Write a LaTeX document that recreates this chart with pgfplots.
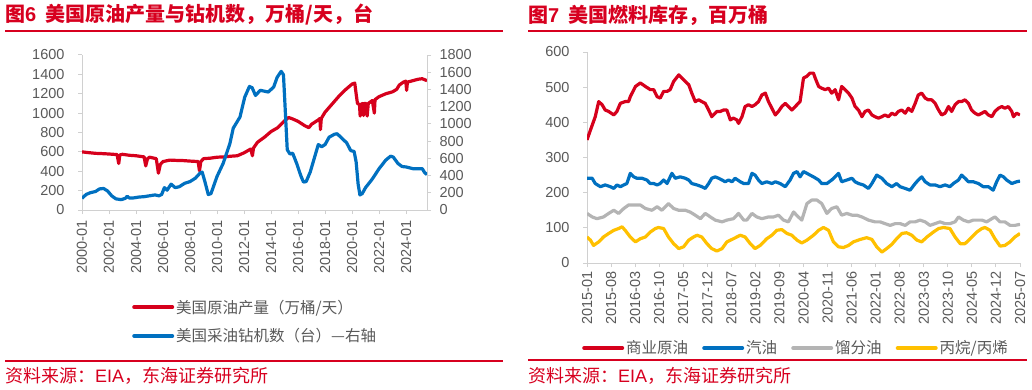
\documentclass[border=0pt]{standalone}
\usepackage{fontspec}
\setmainfont{Liberation Sans}
\newfontfamily\cjk{Noto Sans CJK SC}
\usepackage{pgfplots}
\pgfplotsset{compat=1.18}
\definecolor{hdred}{HTML}{D7001F}
\definecolor{sred}{HTML}{D6001C}
\definecolor{sblue}{HTML}{0070C0}
\definecolor{sgray}{HTML}{B4B4B4}
\definecolor{syellow}{HTML}{FFC000}
\definecolor{axgray}{HTML}{D0D0D0}
\definecolor{txgray}{HTML}{595959}
\pgfplotsset{
  base/.style={scale only axis,
    axis line style={draw=axgray, line width=1pt, -},
    tick style={draw=axgray, line width=1pt},
    major tick length=4pt, tick align=outside,
    ticklabel style={font=\fontsize{14.5}{16}\selectfont, text=txgray},
    /pgf/number format/assume math mode=true,
    /pgf/number format/1000 sep={},
    legend image code/.code={\draw[##1, line width=4pt, line cap=round] (0pt,0pt) -- (38pt,0pt);},
  },
  ser/.style={line width=3.2pt, line join=round},
}
\begin{document}
\begin{tikzpicture}
\useasboundingbox (0,0) rectangle (1032pt,389pt);
% titles and rules
\node[anchor=west, inner sep=0pt, text=hdred, font=\cjk\bfseries\fontsize{20}{23}\selectfont] at (5pt,374pt) {图{\rmfamily\bfseries 6}\ \ 美国原油产量与钻机数，万桶/天，台};
\node[anchor=west, inner sep=0pt, text=hdred, font=\cjk\bfseries\fontsize{20}{23}\selectfont] at (528pt,374pt) {图{\rmfamily\bfseries 7}\ \ 美国燃料库存，百万桶};
\draw[hdred, line width=1.6pt] (5pt,358pt) -- (503pt,358pt);
\draw[hdred, line width=1.6pt] (528pt,358pt) -- (1027pt,358pt);
\draw[hdred, line width=1.6pt] (5pt,28pt) -- (503pt,28pt);
\draw[hdred, line width=1.6pt] (528pt,29pt) -- (1027pt,29pt);
\node[anchor=west, inner sep=0pt, text=hdred, font=\cjk\fontsize{18}{21}\selectfont] at (5pt,13pt) {资料来源：{\rmfamily EIA}，东海证券研究所};
\node[anchor=west, inner sep=0pt, text=hdred, font=\cjk\fontsize{18}{21}\selectfont] at (528pt,13pt) {资料来源：{\rmfamily EIA}，东海证券研究所};

% ---------------- left panel
\begin{axis}[base, at={(82pt,179pt)}, anchor=south west, width=345pt, height=155pt,
  xmin=2000, xmax=2025.55, ymin=0, ymax=1600, ytick={0,200,...,1600},
  axis x line*=bottom, axis y line*=left,
  xtick={2000,2002,...,2024},
  xticklabels={2000-01,2002-01,2004-01,2006-01,2008-01,2010-01,2012-01,2014-01,2016-01,2018-01,2020-01,2022-01,2024-01},
  xticklabel style={rotate=90, anchor=east, yshift=0pt, xshift=-3pt},
  yticklabel style={xshift=-10pt}]
\addplot[sred, ser] coordinates {(2000.0,600)(2000.5,592)(2001.0,585)(2001.5,582)(2002.0,578)(2002.6,572)(2002.72,480)(2002.8,568)(2003.0,575)(2003.5,565)(2004.0,560)(2004.6,548)(2004.72,455)(2004.85,530)(2005.0,545)(2005.5,530)(2005.66,380)(2005.8,470)(2006.0,500)(2006.5,515)(2007.0,512)(2007.5,510)(2008.0,505)(2008.6,500)(2008.7,405)(2008.8,500)(2009.0,530)(2009.5,535)(2010.0,545)(2010.5,548)(2011.0,555)(2011.5,560)(2012.0,590)(2012.5,630)(2012.62,560)(2012.7,640)(2013.0,700)(2013.5,750)(2014.0,810)(2014.5,850)(2015.0,920)(2015.3,955)(2015.6,940)(2016.0,915)(2016.5,870)(2016.8,850)(2017.0,885)(2017.5,930)(2017.62,945)(2017.66,830)(2017.72,945)(2018.0,1010)(2018.5,1090)(2019.0,1170)(2019.5,1240)(2020.0,1300)(2020.2,1310)(2020.3,1200)(2020.4,1100)(2020.55,1090)(2020.6,970)(2020.65,1090)(2020.8,1100)(2020.85,975)(2020.9,1100)(2021.05,1100)(2021.12,970)(2021.2,1100)(2021.5,1130)(2021.65,1000)(2021.7,1140)(2022.0,1170)(2022.5,1200)(2023.0,1220)(2023.3,1245)(2023.5,1290)(2023.8,1320)(2023.98,1330)(2024.04,1235)(2024.1,1320)(2024.5,1335)(2024.9,1350)(2025.2,1355)(2025.55,1335)};
\end{axis}
\begin{axis}[base, at={(82pt,179pt)}, anchor=south west, width=345pt, height=155pt,
  xmin=2000, xmax=2025.55, ymin=0, ymax=1800, ytick={0,200,...,1800},
  axis y line*=right, axis x line=none,
  yticklabel style={xshift=5pt},
  legend style={at={(axis description cs:0.145,-0.72)}, anchor=west, draw=none, fill=none, inner sep=0pt,
    font=\cjk\fontsize{15.5}{18}\selectfont, text=txgray, row sep=10pt},
  legend cell align=left]
\addlegendimage{sred, ser}
\addlegendentry{美国原油产量（万桶/天）}
\addplot[sblue, ser] coordinates {(2000.0,135)(2000.3,180)(2000.6,200)(2001.0,215)(2001.3,245)(2001.6,250)(2001.9,220)(2002.2,165)(2002.5,130)(2002.9,120)(2003.2,135)(2003.35,160)(2003.5,140)(2003.8,140)(2004.2,150)(2004.6,155)(2005.0,165)(2005.4,175)(2005.7,165)(2005.9,180)(2006.1,260)(2006.3,230)(2006.6,300)(2006.9,260)(2007.2,270)(2007.6,310)(2008.0,330)(2008.4,370)(2008.75,430)(2008.9,440)(2009.1,330)(2009.35,180)(2009.55,190)(2010.0,390)(2010.45,540)(2010.95,770)(2011.2,950)(2011.7,1080)(2012.05,1310)(2012.4,1435)(2012.6,1420)(2012.85,1330)(2013.2,1390)(2013.5,1380)(2013.8,1370)(2014.2,1430)(2014.45,1540)(2014.75,1610)(2014.92,1570)(2015.2,700)(2015.4,650)(2015.6,660)(2015.9,540)(2016.2,400)(2016.4,325)(2016.6,330)(2016.9,440)(2017.2,600)(2017.5,760)(2017.75,735)(2018.0,760)(2018.3,845)(2018.7,880)(2018.9,885)(2019.2,840)(2019.6,780)(2019.9,690)(2020.15,680)(2020.3,560)(2020.45,300)(2020.58,175)(2020.75,190)(2021.0,260)(2021.5,360)(2022.0,480)(2022.5,580)(2022.85,625)(2023.05,615)(2023.4,540)(2023.7,505)(2024.0,500)(2024.5,480)(2024.9,480)(2025.2,480)(2025.35,440)(2025.55,410)};
\addlegendentry{美国采油钻机数（台）—右轴}
\end{axis}

% ---------------- right panel
\begin{axis}[base, at={(587pt,126pt)}, anchor=south west, width=433pt, height=211pt,
  xmin=0, xmax=126, ymin=0, ymax=600, ytick={0,100,...,600},
  axis x line*=bottom, axis y line*=left,
  xtick={0,7,...,126},
  xticklabels={2015-01,2015-08,2016-03,2016-10,2017-05,2017-12,2018-07,2019-02,2019-09,2020-04,2020-11,2021-06,2022-01,2022-08,2023-03,2023-10,2024-05,2024-12,2025-07},
  xticklabel style={rotate=90, anchor=east, xshift=-1pt},
  yticklabel style={xshift=-10pt},
  legend style={at={(axis description cs:-0.0115,-0.403)}, anchor=west, draw=none, fill=none, inner sep=0pt,
    font=\cjk\fontsize{15.5}{18}\selectfont, text=txgray, legend columns=4,
    /tikz/every even column/.append style={column sep=12pt}},
  legend cell align=left]
\addplot[sred, ser] coordinates {(0,350)(1.0,378)(2.4,416)(3.4,459)(4.4,450)(5.3,435)(6.3,431)(7.8,421)(8.7,431)(9.7,454)(11.1,459)(12.1,459)(12.6,473)(14.1,502)(15.5,512)(17.0,502)(18.4,493)(19.4,493)(20.4,473)(21.3,469)(22.3,488)(23.3,488)(24.2,493)(25.2,516)(26.7,535)(28.1,521)(29.6,507)(30.5,483)(31.5,459)(32.5,464)(33.4,459)(34.4,454)(35.4,435)(36.3,416)(37.8,431)(38.8,431)(39.7,435)(40.7,435)(41.7,407)(42.6,412)(43.6,407)(44.1,397)(45.1,416)(46.0,445)(47.0,450)(48.0,445)(48.9,450)(49.9,459)(50.9,478)(51.9,483)(52.8,459)(53.8,440)(54.8,421)(55.7,431)(56.7,445)(57.7,454)(58.6,445)(59.6,435)(60.6,445)(62.0,459)(63.0,526)(64.0,531)(64.9,540)(65.9,540)(66.4,526)(67.4,502)(68.3,497)(69.3,493)(70.3,497)(71.2,483)(72.2,493)(73.2,464)(74.1,502)(75.1,493)(76.1,483)(77.1,469)(78.0,445)(79.0,435)(80.0,416)(80.9,431)(81.9,435)(82.9,421)(83.8,416)(84.8,412)(85.8,416)(86.7,421)(87.7,416)(88.7,426)(89.7,421)(90.6,431)(91.6,435)(92.6,426)(93.5,440)(94.5,431)(95.5,454)(96.4,478)(97.4,483)(98.4,469)(99.3,464)(100.3,464)(101.3,454)(102.3,435)(103.2,421)(104.2,426)(105.2,445)(106.1,431)(107.1,450)(108.1,459)(109.0,459)(110.0,464)(111.0,454)(111.9,435)(112.9,426)(113.9,421)(114.9,426)(115.8,431)(116.8,421)(117.8,416)(118.7,431)(119.7,440)(120.7,445)(121.6,440)(122.6,445)(123.6,431)(124.1,416)(125.0,426)(126.0,421)};
\addlegendentry{商业原油}
\addplot[sblue, ser] coordinates {(0,241)(1.5,241)(2.4,226)(3.9,217)(5.3,222)(6.8,217)(7.8,212)(8.7,222)(9.7,217)(10.7,222)(11.6,226)(12.6,255)(13.6,245)(14.5,241)(16.0,241)(17.4,236)(18.4,226)(19.4,226)(20.4,222)(21.3,226)(22.3,236)(23.3,226)(24.7,255)(25.7,241)(27.1,245)(28.6,241)(29.6,236)(30.5,226)(32.0,222)(33.4,217)(34.4,212)(35.4,226)(36.3,241)(37.3,245)(38.3,241)(39.3,236)(40.2,231)(41.2,236)(42.2,231)(43.1,241)(44.6,231)(45.6,226)(47.0,226)(48.0,255)(48.9,250)(49.9,236)(50.9,226)(52.3,231)(53.8,226)(54.8,231)(56.2,226)(57.7,217)(59.1,236)(60.1,255)(61.1,260)(62.0,245)(63.0,260)(64.0,255)(64.9,250)(65.9,245)(67.4,236)(68.3,226)(69.8,226)(71.2,236)(72.2,245)(73.2,255)(74.1,231)(75.6,236)(77.1,241)(78.0,231)(79.0,226)(80.4,222)(81.9,212)(82.9,226)(84.3,250)(85.8,241)(87.2,226)(88.7,217)(90.1,226)(91.1,217)(92.6,212)(94.0,207)(95.5,226)(96.4,236)(97.4,245)(98.4,231)(99.8,222)(101.3,222)(102.7,217)(104.2,222)(105.6,217)(106.6,226)(108.1,236)(109.0,250)(110.0,241)(111.0,231)(112.4,231)(113.9,226)(115.3,217)(116.8,217)(118.2,207)(119.2,231)(120.2,250)(121.2,245)(122.1,236)(123.6,226)(125.0,231)(126.0,233)};
\addlegendentry{汽油}
\addplot[sgray, ser] coordinates {(0,141)(1.5,131)(2.9,126)(4.8,131)(6.3,141)(7.8,150)(9.2,141)(10.7,155)(12.1,165)(14.1,165)(15.5,165)(17.0,155)(18.9,150)(20.4,160)(21.8,150)(23.7,169)(25.2,155)(26.7,150)(28.6,150)(30.0,145)(31.5,136)(33.0,126)(34.4,141)(35.9,131)(37.3,122)(39.3,117)(40.7,122)(42.6,126)(44.1,141)(45.6,122)(46.5,122)(48.0,141)(49.4,131)(50.9,126)(52.8,131)(54.3,131)(55.7,136)(57.2,122)(58.6,117)(60.1,145)(61.5,131)(62.5,122)(64.0,169)(65.4,179)(66.9,179)(68.3,169)(69.8,141)(71.2,155)(72.7,160)(74.1,136)(75.6,141)(77.1,136)(78.5,136)(80.0,131)(81.9,122)(83.8,117)(85.3,117)(86.7,112)(88.2,107)(89.7,112)(91.1,112)(92.6,107)(94.0,117)(95.5,117)(96.9,122)(98.4,117)(99.8,107)(101.3,112)(102.7,117)(104.2,112)(105.6,112)(107.1,117)(108.1,131)(109.5,122)(111.0,117)(112.4,122)(114.9,122)(116.3,117)(117.8,126)(118.7,131)(120.2,117)(121.6,117)(123.1,107)(124.5,107)(126.0,110)};
\addlegendentry{馏分油}
\addplot[syellow, ser] coordinates {(0,74)(1.0,65)(1.9,50)(3.4,60)(4.8,74)(6.3,84)(7.8,93)(9.2,98)(10.2,103)(11.1,93)(12.6,74)(14.1,60)(15.5,69)(17.0,74)(18.4,88)(19.9,98)(20.8,101)(22.3,98)(23.7,74)(25.2,55)(26.7,41)(28.1,46)(29.6,65)(31.0,74)(32.0,79)(33.4,74)(34.9,55)(36.3,41)(37.8,34)(39.3,41)(40.7,60)(42.6,69)(44.6,79)(46.0,74)(47.5,55)(48.9,41)(50.4,50)(52.3,69)(53.8,79)(55.2,93)(56.7,95)(58.2,84)(59.6,79)(61.1,65)(62.5,57)(64.0,65)(65.9,79)(67.4,93)(68.8,101)(70.3,93)(71.7,60)(73.2,46)(74.6,44)(76.1,50)(77.5,60)(79.5,67)(81.4,72)(82.9,67)(84.3,46)(85.8,31)(87.2,41)(88.7,53)(90.1,69)(91.6,84)(93.0,86)(94.5,79)(96.0,65)(97.4,60)(98.9,74)(100.8,88)(102.3,98)(103.7,101)(105.6,98)(107.1,74)(108.6,55)(110.0,55)(111.5,69)(113.4,88)(114.9,98)(115.8,101)(117.3,93)(118.7,69)(120.2,48)(121.6,50)(123.1,60)(124.5,74)(126.0,84)};
\addlegendentry{丙烷/丙烯}
\end{axis}
\end{tikzpicture}
\end{document}
